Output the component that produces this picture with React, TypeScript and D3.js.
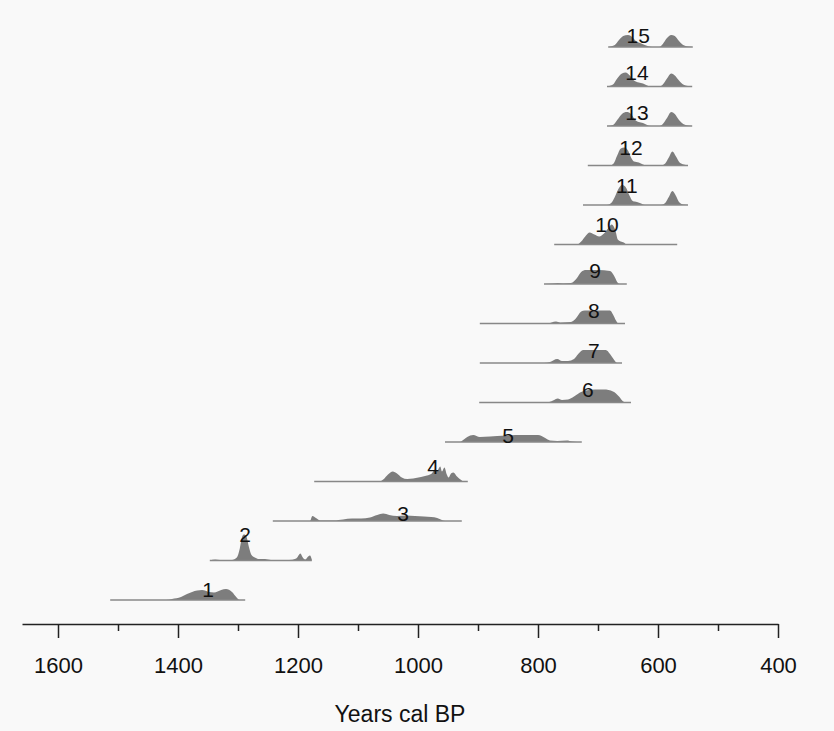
import React, { Component } from 'react';
import * as d3 from 'd3';

// calibrated age ranges (years cal BP), one row per sample
const samples = ['1', '2', '3', '4', '5', '6', '7', '8', '9', '10', '11', '12', '13', '14', '15'];
const rangeStart = [1513, 1347, 1242, 1173, 955, 898, 897, 897, 790, 773, 725, 717, 685, 685, 683];
const rangeEnd = [1288, 1177, 927, 917, 727, 645, 660, 655, 652, 568, 550, 550, 543, 543, 542];
const labelAt = [1350, 1288, 1025, 975, 850, 717, 707, 707, 705, 685, 652, 645, 635, 635, 633];

// relative probability, [year cal BP, density]
const prob1 = [[1513, 0], [1420, 0], [1410, 1], [1395, 3], [1385, 6], [1368, 9.5], [1360, 10], [1348, 8], [1340, 7.5], [1328, 10], [1320, 11], [1310, 8], [1303, 3], [1297, 0], [1288, 0]];
const prob2 = [[1347, 0], [1338, 1], [1330, 0.5], [1310, 0.5], [1302, 3], [1297, 12], [1293, 24], [1290, 26], [1286, 24], [1282, 14], [1278, 6], [1272, 3], [1265, 1.5], [1255, 1.5], [1245, 0.5], [1215, 0.5], [1203, 2], [1196, 7], [1192, 3], [1188, 1], [1183, 4], [1180, 5], [1177, 1]];
const prob3 = [[1242, 0], [1180, 0], [1176, 5], [1170, 3], [1163, 0.5], [1140, 0.5], [1125, 1.5], [1110, 2.5], [1095, 2.5], [1080, 3.5], [1068, 6], [1058, 7.5], [1048, 6], [1035, 5], [1020, 5.5], [1005, 5], [990, 4.5], [978, 4], [968, 3], [962, 1.5], [955, 0], [927, 0]];
const prob4 = [[1173, 0], [1065, 0], [1058, 2], [1050, 7], [1042, 10], [1035, 8], [1027, 4], [1018, 2.5], [1008, 3], [995, 4.5], [985, 6], [977, 8], [972, 12], [968, 11], [963, 15], [960, 10], [956, 14], [952, 7], [949, 4], [945, 8], [941, 9], [935, 5], [928, 1.5], [924, 0], [917, 0]];
const prob5 = [[955, 0], [930, 0], [927, 1], [918, 5], [908, 7], [897, 5], [880, 5.5], [868, 6], [852, 6.5], [838, 7], [818, 7], [800, 7], [788, 4], [780, 1.5], [768, 1], [752, 1.5], [743, 0.5], [735, 0], [727, 0]];
const prob6 = [[898, 0], [785, 0], [775, 2], [767, 4], [760, 2.5], [750, 3], [740, 6], [730, 10], [720, 12], [705, 13], [690, 13], [675, 11], [665, 6], [658, 1], [652, 0], [645, 0]];
const prob7 = [[897, 0], [790, 0], [780, 1], [768, 4], [760, 2], [750, 2], [740, 4], [733, 9], [725, 13], [700, 13], [687, 13], [680, 9], [673, 3], [668, 0], [660, 0]];
const prob8 = [[897, 0], [785, 0], [770, 2], [763, 1], [745, 1.5], [737, 5], [728, 12], [722, 13], [700, 13], [680, 13], [675, 9], [670, 3], [666, 0], [655, 0]];
const prob9 = [[790, 0], [775, 0.5], [767, 1], [758, 0.5], [745, 1], [735, 6], [728, 12], [720, 14], [700, 14], [680, 13], [673, 8], [668, 2], [664, 0], [652, 0]];
const prob10 = [[773, 0], [735, 0], [728, 3], [720, 9], [714, 12], [706, 10], [698, 8], [690, 11], [682, 17], [677, 20], [671, 14], [667, 5], [662, 3], [657, 2], [652, 0], [568, 0]];
const prob11 = [[725, 0], [685, 0], [678, 2], [672, 8], [666, 16], [660, 20], [654, 18], [648, 10], [642, 4], [635, 3], [628, 1.5], [622, 0], [595, 0], [588, 2], [582, 8], [576, 14], [570, 9], [565, 3], [558, 0.5], [550, 0]];
const prob12 = [[717, 0], [680, 0], [674, 2], [668, 10], [662, 17], [656, 18], [650, 15], [645, 8], [640, 4], [632, 3], [625, 1], [618, 0], [595, 0], [588, 2], [582, 8], [576, 14], [570, 9], [564, 3], [557, 1], [550, 0]];
const prob13 = [[685, 0], [675, 1], [668, 6], [660, 12], [652, 14], [645, 12], [638, 6], [632, 4], [625, 3], [618, 1], [612, 0], [597, 0], [592, 2], [585, 8], [578, 14], [572, 12], [565, 6], [558, 2], [550, 0.5], [543, 0]];
const prob14 = [[685, 0], [675, 2], [668, 8], [660, 13], [654, 14], [647, 11], [640, 6], [632, 4], [625, 3], [618, 1], [612, 0], [597, 0], [592, 2], [585, 8], [578, 13], [572, 11], [565, 6], [558, 2], [550, 0.5], [543, 0]];
const prob15 = [[683, 0], [672, 2], [665, 7], [658, 11], [650, 12], [643, 10], [637, 6], [630, 4], [622, 2], [615, 0.5], [610, 0], [598, 0], [592, 3], [585, 9], [578, 12], [572, 11], [565, 6], [558, 2], [550, 0.5], [542, 0]];

const majorTicks = [1600, 1400, 1200, 1000, 800, 600, 400];
const minorTicks = [1500, 1300, 1100, 900, 700, 500];
const axisTitle = 'Years cal BP';

const probs = [prob1, prob2, prob3, prob4, prob5, prob6, prob7, prob8, prob9, prob10, prob11, prob12, prob13, prob14, prob15];

class App extends Component {
    svgRef = React.createRef<SVGSVGElement>();

    componentDidMount() {
        this.drawChart();
    }

    drawChart() {
        const width = 834, height = 731;
        const font = '"Liberation Sans", Arial, sans-serif';
        const svg = d3.select(this.svgRef.current);
        svg.selectAll('*').remove();

        svg.append('rect').attr('width', width).attr('height', height).attr('fill', '#f9f9f9');

        const x = d3.scaleLinear().domain([1660, 400]).range([22, 778]);
        const row = d3.scalePoint().domain(samples).range([600, 47]);
        const h = d3.scaleLinear().domain([0, 10]).range([0, 10]);

        samples.forEach((s, i) => {
            const y0 = row(s) as number;
            const g = svg.append('g');
            const area = d3.area<number[]>()
                .x(d => x(d[0]))
                .y0(y0)
                .y1(d => y0 - h(d[1]))
                .curve(d3.curveMonotoneX);

            g.append('path')
                .datum(probs[i])
                .attr('d', area)
                .attr('fill', '#7d7d7d');

            g.append('line')
                .attr('x1', x(rangeStart[i]))
                .attr('x2', x(rangeEnd[i]))
                .attr('y1', y0)
                .attr('y2', y0)
                .attr('stroke', '#888')
                .attr('stroke-width', 1.6);

            const peak = d3.max(probs[i], d => d[1]) as number;
            g.append('text')
                .attr('x', x(labelAt[i]))
                .attr('y', y0 - h(peak))
                .attr('dy', '0.36em')
                .attr('text-anchor', 'middle')
                .attr('font-family', font)
                .attr('font-size', 21)
                .attr('fill', '#111')
                .text(s);
        });

        const axisY = 624;
        const major = d3.axisBottom(x)
            .tickValues(majorTicks)
            .tickSize(14)
            .tickSizeOuter(0)
            .tickFormat(d3.format('d'));
        const gx = svg.append('g')
            .attr('transform', 'translate(0,' + axisY + ')')
            .call(major);
        gx.select('.domain').attr('stroke', '#222').attr('stroke-width', 1.5);
        gx.selectAll('.tick line').attr('stroke', '#222').attr('stroke-width', 1.5);
        gx.selectAll('.tick text')
            .attr('y', 49)
            .attr('dy', 0)
            .attr('font-family', font)
            .attr('font-size', 22)
            .attr('fill', '#111');

        const minor = d3.axisBottom(x)
            .tickValues(minorTicks)
            .tickSize(7)
            .tickSizeOuter(0)
            .tickFormat(() => '');
        const gm = svg.append('g')
            .attr('transform', 'translate(0,' + axisY + ')')
            .call(minor);
        gm.select('.domain').remove();
        gm.selectAll('.tick line').attr('stroke', '#222').attr('stroke-width', 1.5);

        svg.append('text')
            .attr('x', 400)
            .attr('y', 722)
            .attr('text-anchor', 'middle')
            .attr('font-family', font)
            .attr('font-size', 23)
            .attr('fill', '#111')
            .text(axisTitle);
    }

    render() {
        return (
            <svg ref={this.svgRef} width={834} height={731}
                style={{ position: 'absolute', left: 0, top: 0, display: 'block' }} />
        );
    }
}

export default App;
